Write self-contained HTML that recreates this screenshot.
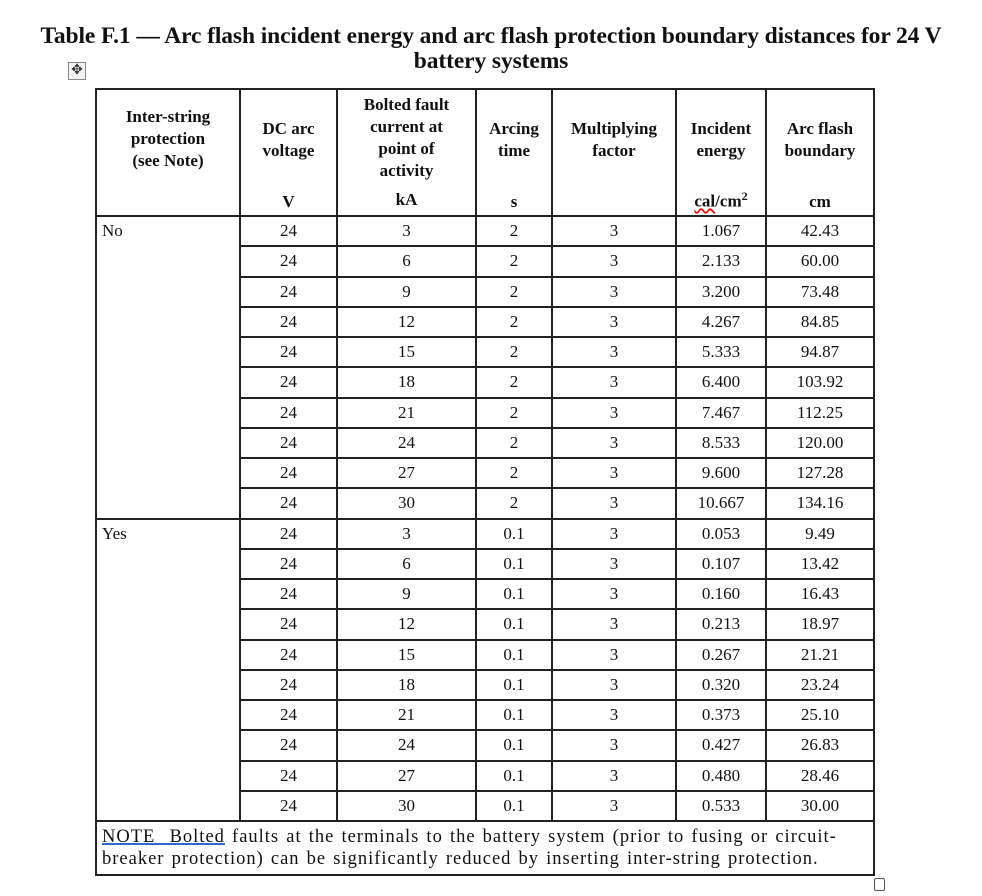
<!DOCTYPE html>
<html><head><meta charset="utf-8"><style>
body{margin:0;width:982px;height:896px;background:#fff;font-family:"Liberation Serif",serif;color:#111;position:relative;overflow:hidden}
#title{position:absolute;left:0;width:982px;top:24px;text-align:center;font-weight:bold;font-size:23.5px;line-height:25px;letter-spacing:-0.1px}
#mv{position:absolute;left:68px;top:62px;width:16px;height:16px;border:1px solid #888;background:#f4f4f4;font-size:14px;line-height:16px;text-align:center;color:#333}
table{position:absolute;left:95px;top:88px;border-collapse:collapse;table-layout:fixed;font-size:17px}
td,th{border:2px solid #222;padding:0;text-align:center;vertical-align:middle}
th{font-weight:bold;height:127px;box-sizing:border-box;line-height:22px;position:relative;vertical-align:top;padding-top:4px}
th .u{position:absolute;left:0;right:0;bottom:2px}
td{height:30.25px;box-sizing:border-box}
td.l{text-align:left;padding-left:5px;vertical-align:top;padding-top:4px}
.note{text-align:left;padding:4px 5px;font-size:18.5px;line-height:22px;height:auto;letter-spacing:1px;word-spacing:1.5px;white-space:nowrap}
#cb{position:absolute;left:874px;top:878px;width:9px;height:11px;border:1px solid #555;border-radius:2px}
</style></head><body>
<div id="title">Table F.1 — Arc flash incident energy and arc flash protection boundary distances for 24 V<br>battery systems</div>
<div id="mv">✥</div>
<table id="t">
<colgroup><col style="width:144px"><col style="width:97px"><col style="width:139px"><col style="width:76px"><col style="width:124px"><col style="width:90px"><col style="width:108px"></colgroup>
<thead><tr>
<th style="padding-top:16px">Inter-string<br>protection<br>(see Note)</th>
<th style="padding-top:28px">DC arc<br>voltage<span class="u">V</span></th>
<th>Bolted fault<br>current at<br>point of<br>activity<span class="u" style="bottom:4px">kA</span></th>
<th style="padding-top:28px">Arcing<br>time<span class="u">s</span></th>
<th style="padding-top:28px">Multiplying<br>factor</th>
<th style="padding-top:28px">Incident<br>energy<span class="u"><span style="text-decoration:underline wavy red">cal</span>/cm<sup style="font-size:12px">2</sup></span></th>
<th style="padding-top:28px">Arc flash<br>boundary<span class="u">cm</span></th>
</tr></thead>
<tbody id="tb"></tbody>
</table>
<div id="cb"></div>
<script>
const currents=[3,6,9,12,15,18,21,24,27,30];
const energyNo=["1.067","2.133","3.200","4.267","5.333","6.400","7.467","8.533","9.600","10.667"];
const boundaryNo=["42.43","60.00","73.48","84.85","94.87","103.92","112.25","120.00","127.28","134.16"];
const energyYes=["0.053","0.107","0.160","0.213","0.267","0.320","0.373","0.427","0.480","0.533"];
const boundaryYes=["9.49","13.42","16.43","18.97","21.21","23.24","25.10","26.83","28.46","30.00"];
const groups=[["No","2",energyNo,boundaryNo],["Yes","0.1",energyYes,boundaryYes]];
const tb=document.getElementById('tb');
groups.forEach(g=>{
  currents.forEach((c,i)=>{
    const tr=document.createElement('tr');
    
    
    if(i===0){
      const td=document.createElement('td');
      td.className='l';td.rowSpan=10;td.textContent=g[0];
      
      
      tr.appendChild(td);
    }
    ["24",String(c),g[1],"3",g[2][i],g[3][i]].forEach(v=>{
      const td=document.createElement('td');
      td.textContent=v;
      
      
      tr.appendChild(td);
    });
    tb.appendChild(tr);
  });
});
const tr=document.createElement('tr');


const td=document.createElement('td');
td.colSpan=7;td.className='note';
td.innerHTML='<span style="text-decoration:underline;text-decoration-color:#36c;text-decoration-thickness:2px">NOTE&nbsp;&nbsp;Bolted</span> faults at the terminals to the battery system (prior to fusing or circuit-<br>breaker protection) can be significantly reduced by inserting inter-string protection.';


tr.appendChild(td);tb.appendChild(tr);
</script>
</body></html>
